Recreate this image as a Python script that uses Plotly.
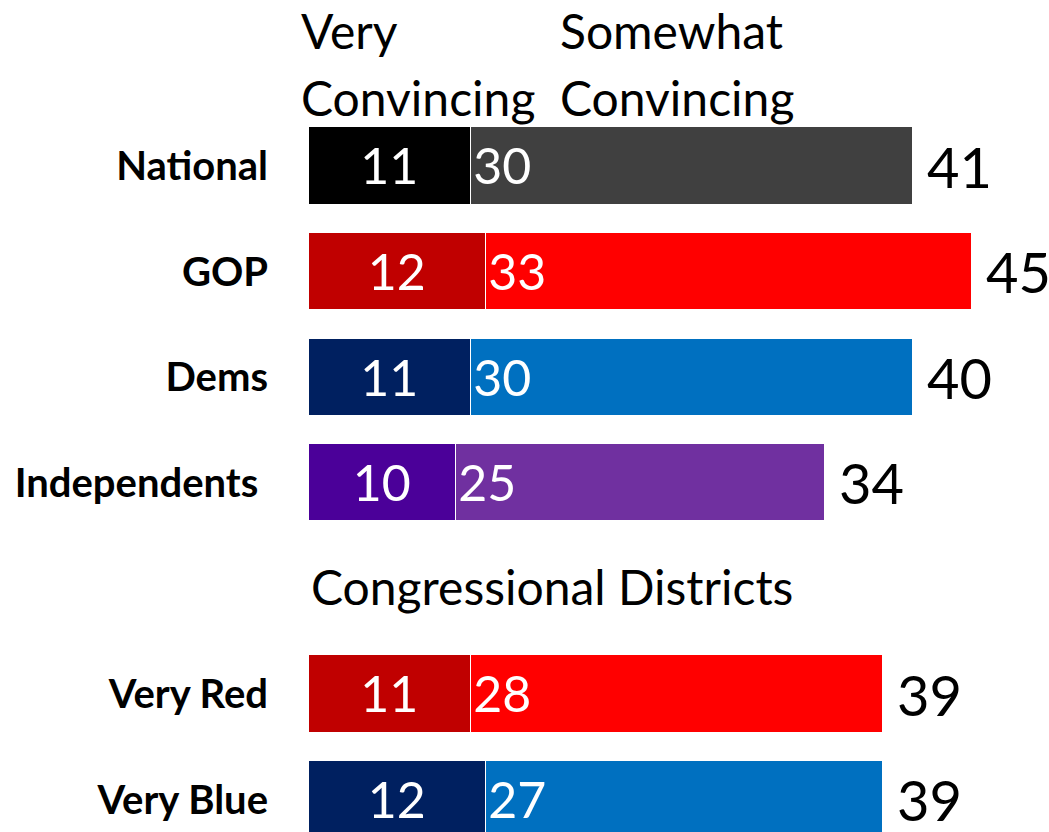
import plotly.graph_objects as go

categories = ["National", "GOP", "Dems", "Independents\u00a0", " ", "Very Red", "Very Blue"]
very_convincing = [11, 12, 11, 10, None, 11, 12]
somewhat_convincing = [30, 33, 30, 25, None, 28, 27]
total_labels = [41, 45, 40, 34, None, 39, 39]

very_colors = ["#000000", "#C00000", "#002060", "#4B0099", "#FFFFFF", "#C00000", "#002060"]
somewhat_colors = ["#404040", "#FF0000", "#0070C0", "#7030A0", "#FFFFFF", "#FF0000", "#0070C0"]

FONT = "Lato"
W, H = 1049, 832
L = 309                   # left margin (zero of the value axis)
PX_PER_UNIT = 14.73
PX_PER_ROW = 105.6
ROW0 = 166

fig = go.Figure()
fig.add_trace(go.Bar(
    y=categories, x=very_convincing, orientation="h",
    marker=dict(color=very_colors, line=dict(color="white", width=1.5)),
    text=very_convincing, textposition="inside", insidetextanchor="middle",
    constraintext="none",
    textfont=dict(family=FONT, size=50, color="white"),
    width=0.73, name="Very Convincing", hoverinfo="skip",
))
fig.add_trace(go.Bar(
    y=categories, x=somewhat_convincing, orientation="h",
    marker=dict(color=somewhat_colors, line=dict(color="white", width=1.5)),
    text=somewhat_convincing, textposition="inside", insidetextanchor="start",
    constraintext="none",
    textfont=dict(family=FONT, size=50, color="white"),
    width=0.73, name="Somewhat Convincing", hoverinfo="skip",
))

# total labels to the right of each bar
for cat, a, b, t in zip(categories, very_convincing, somewhat_convincing, total_labels):
    if t is None:
        continue
    fig.add_annotation(x=a + b, y=cat, xref="x", yref="y", text=str(t),
                       showarrow=False, xanchor="left", yanchor="middle", xshift=12,
                       font=dict(family=FONT, size=56, color="black"))

plot_w = W - L
# column headers (one annotation per line)
headers = [("Very", 299, 0), ("Convincing", 299, 66.6),
           ("Somewhat", 558, 0), ("Convincing", 558, 66.6)]
for txt, px, top in headers:
    fig.add_annotation(x=(px - L) / plot_w, y=1 - top / H, xref="paper", yref="paper",
                       text=txt, showarrow=False, align="left",
                       xanchor="left", yanchor="top",
                       font=dict(family=FONT, size=48, color="black"))

# section label
fig.add_annotation(x=0, y=" ", xref="x", yref="y", text="Congressional Districts",
                   showarrow=False, xanchor="left", yanchor="middle", yshift=2,
                   font=dict(family=FONT, size=48, color="black"))

fig.update_layout(
    barmode="stack",
    width=W, height=H,
    margin=dict(l=L, r=0, t=0, b=0),
    paper_bgcolor="white", plot_bgcolor="white",
    showlegend=False,
    bargap=0,
    hovermode=False,
    xaxis=dict(range=[0, plot_w / PX_PER_UNIT], visible=False, fixedrange=True),
    yaxis=dict(categoryorder="array", categoryarray=categories,
               range=[(H - ROW0) / PX_PER_ROW, -ROW0 / PX_PER_ROW],
               showgrid=False, zeroline=False, showline=False,
               ticks="", ticklabelstandoff=40,
               tickfont=dict(family=FONT, size=40, color="black", weight="bold"),
               fixedrange=True),
)

# let the figure fill the window exactly (no default 8px page margin)
fig.write_html("out.html", config={"displayModeBar": False},
               post_script="document.body.style.margin='0';document.body.style.overflow='hidden';")
